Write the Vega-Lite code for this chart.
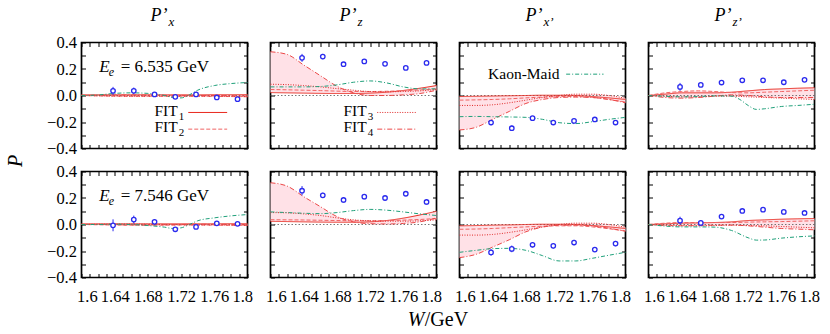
{
"$schema":"https://vega.github.io/schema/vega-lite/v6.json",
"background":"white",
"padding":{"left":4.5,"top":5.5,"right":2,"bottom":2},
"columns":4,
"spacing":{"row":23,"column":23},
"bounds":"flush",
"config":{
 "view":{"stroke":"#000","strokeWidth":1.7},
 "axis":{"grid":false,"domain":false,"ticks":true,"tickSize":-4,"tickColor":"#000","tickWidth":1,"labelFont":"Liberation Serif","labelFontSize":16.5,"labelColor":"#000","labelOverlap":false,"labelBound":false},
 "axisX":{"tickCount":20,"labelExpr":"round(datum.value*100)%4==0 ? format(datum.value,'.2~f') : ''","labelFlush":true,"labelFlushOffset":5,"labelPadding":15},
 "axisY":{"tickCount":8,"labelExpr":"abs(round(datum.value*10))%2==0 ? format(datum.value,'.1f') : ''","labelPadding":9},
 "text":{"font":"Liberation Serif","color":"#000","baseline":"alphabetic"}
},
"datasets":{
"cur":[
{"p":"a1","s":"F1","W":1.6,"P":0.005},{"p":"a1","s":"F1","W":1.62,"P":0.005},{"p":"a1","s":"F1","W":1.64,"P":0.005},{"p":"a1","s":"F1","W":1.66,"P":0.005},{"p":"a1","s":"F1","W":1.68,"P":0.005},{"p":"a1","s":"F1","W":1.7,"P":0.005},{"p":"a1","s":"F1","W":1.72,"P":0.005},{"p":"a1","s":"F1","W":1.74,"P":0.005},{"p":"a1","s":"F1","W":1.76,"P":0.006},{"p":"a1","s":"F1","W":1.78,"P":0.006},{"p":"a1","s":"F1","W":1.8,"P":0.007},
{"p":"a1","s":"F2","W":1.6,"P":0},{"p":"a1","s":"F2","W":1.62,"P":-0.003},{"p":"a1","s":"F2","W":1.64,"P":-0.005},{"p":"a1","s":"F2","W":1.66,"P":-0.006},{"p":"a1","s":"F2","W":1.68,"P":-0.006},{"p":"a1","s":"F2","W":1.7,"P":-0.006},{"p":"a1","s":"F2","W":1.72,"P":-0.006},{"p":"a1","s":"F2","W":1.74,"P":-0.006},{"p":"a1","s":"F2","W":1.76,"P":-0.007},{"p":"a1","s":"F2","W":1.78,"P":-0.008},{"p":"a1","s":"F2","W":1.8,"P":-0.01},
{"p":"a1","s":"F3","W":1.6,"P":0},{"p":"a1","s":"F3","W":1.62,"P":-0.002},{"p":"a1","s":"F3","W":1.64,"P":-0.004},{"p":"a1","s":"F3","W":1.66,"P":-0.005},{"p":"a1","s":"F3","W":1.68,"P":-0.005},{"p":"a1","s":"F3","W":1.7,"P":-0.004},{"p":"a1","s":"F3","W":1.72,"P":-0.004},{"p":"a1","s":"F3","W":1.74,"P":-0.004},{"p":"a1","s":"F3","W":1.76,"P":-0.005},{"p":"a1","s":"F3","W":1.78,"P":-0.006},{"p":"a1","s":"F3","W":1.8,"P":-0.008},
{"p":"a1","s":"F4","W":1.6,"P":0},{"p":"a1","s":"F4","W":1.62,"P":0.002},{"p":"a1","s":"F4","W":1.64,"P":0.004},{"p":"a1","s":"F4","W":1.66,"P":0.004},{"p":"a1","s":"F4","W":1.68,"P":0.003},{"p":"a1","s":"F4","W":1.7,"P":0.002},{"p":"a1","s":"F4","W":1.72,"P":0.001},{"p":"a1","s":"F4","W":1.74,"P":0},{"p":"a1","s":"F4","W":1.76,"P":0},{"p":"a1","s":"F4","W":1.78,"P":-0.002},{"p":"a1","s":"F4","W":1.8,"P":-0.003},
{"p":"a1","s":"M","W":1.6,"P":0},{"p":"a1","s":"M","W":1.62,"P":0.004},{"p":"a1","s":"M","W":1.64,"P":0.016},{"p":"a1","s":"M","W":1.66,"P":0.02},{"p":"a1","s":"M","W":1.68,"P":0.016},{"p":"a1","s":"M","W":1.7,"P":0},{"p":"a1","s":"M","W":1.71,"P":-0.015},{"p":"a1","s":"M","W":1.72,"P":-0.018},{"p":"a1","s":"M","W":1.73,"P":0.005},{"p":"a1","s":"M","W":1.74,"P":0.04},{"p":"a1","s":"M","W":1.76,"P":0.075},{"p":"a1","s":"M","W":1.78,"P":0.09},{"p":"a1","s":"M","W":1.8,"P":0.098},
{"p":"a2","s":"F1","W":1.6,"P":0.022},{"p":"a2","s":"F1","W":1.62,"P":0.02},{"p":"a2","s":"F1","W":1.64,"P":0.018},{"p":"a2","s":"F1","W":1.66,"P":0.016},{"p":"a2","s":"F1","W":1.68,"P":0.015},{"p":"a2","s":"F1","W":1.7,"P":0.015},{"p":"a2","s":"F1","W":1.72,"P":0.018},{"p":"a2","s":"F1","W":1.74,"P":0.025},{"p":"a2","s":"F1","W":1.76,"P":0.038},{"p":"a2","s":"F1","W":1.78,"P":0.055},{"p":"a2","s":"F1","W":1.8,"P":0.075},
{"p":"a2","s":"F2","W":1.6,"P":0.045},{"p":"a2","s":"F2","W":1.62,"P":0.043},{"p":"a2","s":"F2","W":1.64,"P":0.04},{"p":"a2","s":"F2","W":1.66,"P":0.037},{"p":"a2","s":"F2","W":1.68,"P":0.033},{"p":"a2","s":"F2","W":1.7,"P":0.03},{"p":"a2","s":"F2","W":1.72,"P":0.03},{"p":"a2","s":"F2","W":1.74,"P":0.032},{"p":"a2","s":"F2","W":1.76,"P":0.036},{"p":"a2","s":"F2","W":1.78,"P":0.042},{"p":"a2","s":"F2","W":1.8,"P":0.05},
{"p":"a2","s":"F3","W":1.6,"P":0.085},{"p":"a2","s":"F3","W":1.62,"P":0.082},{"p":"a2","s":"F3","W":1.64,"P":0.075},{"p":"a2","s":"F3","W":1.66,"P":0.065},{"p":"a2","s":"F3","W":1.68,"P":0.052},{"p":"a2","s":"F3","W":1.7,"P":0.04},{"p":"a2","s":"F3","W":1.72,"P":0.03},{"p":"a2","s":"F3","W":1.74,"P":0.028},{"p":"a2","s":"F3","W":1.76,"P":0.03},{"p":"a2","s":"F3","W":1.78,"P":0.035},{"p":"a2","s":"F3","W":1.8,"P":0.045},
{"p":"a2","s":"F4","W":1.6,"P":0.33},{"p":"a2","s":"F4","W":1.62,"P":0.31},{"p":"a2","s":"F4","W":1.64,"P":0.23},{"p":"a2","s":"F4","W":1.66,"P":0.15},{"p":"a2","s":"F4","W":1.68,"P":0.07},{"p":"a2","s":"F4","W":1.7,"P":0.02},{"p":"a2","s":"F4","W":1.72,"P":0},{"p":"a2","s":"F4","W":1.74,"P":0},{"p":"a2","s":"F4","W":1.76,"P":0.005},{"p":"a2","s":"F4","W":1.78,"P":0.015},{"p":"a2","s":"F4","W":1.8,"P":0.04},
{"p":"a2","s":"M","W":1.6,"P":0.065},{"p":"a2","s":"M","W":1.62,"P":0.065},{"p":"a2","s":"M","W":1.64,"P":0.065},{"p":"a2","s":"M","W":1.66,"P":0.068},{"p":"a2","s":"M","W":1.68,"P":0.08},{"p":"a2","s":"M","W":1.7,"P":0.1},{"p":"a2","s":"M","W":1.72,"P":0.11},{"p":"a2","s":"M","W":1.74,"P":0.095},{"p":"a2","s":"M","W":1.76,"P":0.065},{"p":"a2","s":"M","W":1.78,"P":0.05},{"p":"a2","s":"M","W":1.8,"P":0.05},
{"p":"a3","s":"F1","W":1.6,"P":-0.008},{"p":"a3","s":"F1","W":1.62,"P":-0.006},{"p":"a3","s":"F1","W":1.64,"P":-0.004},{"p":"a3","s":"F1","W":1.66,"P":-0.002},{"p":"a3","s":"F1","W":1.68,"P":0},{"p":"a3","s":"F1","W":1.7,"P":0.002},{"p":"a3","s":"F1","W":1.72,"P":0.002},{"p":"a3","s":"F1","W":1.74,"P":0},{"p":"a3","s":"F1","W":1.76,"P":-0.008},{"p":"a3","s":"F1","W":1.78,"P":-0.018},{"p":"a3","s":"F1","W":1.8,"P":-0.03},
{"p":"a3","s":"F2","W":1.6,"P":-0.035},{"p":"a3","s":"F2","W":1.62,"P":-0.033},{"p":"a3","s":"F2","W":1.64,"P":-0.03},{"p":"a3","s":"F2","W":1.66,"P":-0.025},{"p":"a3","s":"F2","W":1.68,"P":-0.018},{"p":"a3","s":"F2","W":1.7,"P":-0.012},{"p":"a3","s":"F2","W":1.72,"P":-0.008},{"p":"a3","s":"F2","W":1.74,"P":-0.008},{"p":"a3","s":"F2","W":1.76,"P":-0.015},{"p":"a3","s":"F2","W":1.78,"P":-0.03},{"p":"a3","s":"F2","W":1.8,"P":-0.05},
{"p":"a3","s":"F3","W":1.6,"P":-0.075},{"p":"a3","s":"F3","W":1.62,"P":-0.075},{"p":"a3","s":"F3","W":1.64,"P":-0.07},{"p":"a3","s":"F3","W":1.66,"P":-0.055},{"p":"a3","s":"F3","W":1.68,"P":-0.035},{"p":"a3","s":"F3","W":1.7,"P":-0.015},{"p":"a3","s":"F3","W":1.72,"P":0},{"p":"a3","s":"F3","W":1.74,"P":0.01},{"p":"a3","s":"F3","W":1.76,"P":0.01},{"p":"a3","s":"F3","W":1.78,"P":0},{"p":"a3","s":"F3","W":1.8,"P":-0.02},
{"p":"a3","s":"F4","W":1.6,"P":-0.26},{"p":"a3","s":"F4","W":1.62,"P":-0.24},{"p":"a3","s":"F4","W":1.64,"P":-0.18},{"p":"a3","s":"F4","W":1.66,"P":-0.12},{"p":"a3","s":"F4","W":1.68,"P":-0.06},{"p":"a3","s":"F4","W":1.7,"P":-0.03},{"p":"a3","s":"F4","W":1.72,"P":-0.015},{"p":"a3","s":"F4","W":1.74,"P":-0.012},{"p":"a3","s":"F4","W":1.76,"P":-0.015},{"p":"a3","s":"F4","W":1.78,"P":-0.03},{"p":"a3","s":"F4","W":1.8,"P":-0.055},
{"p":"a3","s":"M","W":1.6,"P":-0.16},{"p":"a3","s":"M","W":1.62,"P":-0.158},{"p":"a3","s":"M","W":1.64,"P":-0.16},{"p":"a3","s":"M","W":1.66,"P":-0.162},{"p":"a3","s":"M","W":1.68,"P":-0.165},{"p":"a3","s":"M","W":1.7,"P":-0.18},{"p":"a3","s":"M","W":1.72,"P":-0.205},{"p":"a3","s":"M","W":1.74,"P":-0.212},{"p":"a3","s":"M","W":1.76,"P":-0.198},{"p":"a3","s":"M","W":1.78,"P":-0.18},{"p":"a3","s":"M","W":1.8,"P":-0.165},
{"p":"a4","s":"F1","W":1.6,"P":0},{"p":"a4","s":"F1","W":1.62,"P":0.01},{"p":"a4","s":"F1","W":1.64,"P":0.02},{"p":"a4","s":"F1","W":1.66,"P":0.02},{"p":"a4","s":"F1","W":1.68,"P":0.02},{"p":"a4","s":"F1","W":1.7,"P":0.025},{"p":"a4","s":"F1","W":1.72,"P":0.035},{"p":"a4","s":"F1","W":1.74,"P":0.045},{"p":"a4","s":"F1","W":1.76,"P":0.05},{"p":"a4","s":"F1","W":1.78,"P":0.055},{"p":"a4","s":"F1","W":1.8,"P":0.058},
{"p":"a4","s":"F2","W":1.6,"P":0},{"p":"a4","s":"F2","W":1.62,"P":0.02},{"p":"a4","s":"F2","W":1.64,"P":0.03},{"p":"a4","s":"F2","W":1.66,"P":0.035},{"p":"a4","s":"F2","W":1.68,"P":0.03},{"p":"a4","s":"F2","W":1.7,"P":0.022},{"p":"a4","s":"F2","W":1.72,"P":0.02},{"p":"a4","s":"F2","W":1.74,"P":0.025},{"p":"a4","s":"F2","W":1.76,"P":0.03},{"p":"a4","s":"F2","W":1.78,"P":0.035},{"p":"a4","s":"F2","W":1.8,"P":0.04},
{"p":"a4","s":"F3","W":1.6,"P":0},{"p":"a4","s":"F3","W":1.62,"P":-0.005},{"p":"a4","s":"F3","W":1.64,"P":-0.01},{"p":"a4","s":"F3","W":1.66,"P":-0.01},{"p":"a4","s":"F3","W":1.68,"P":-0.005},{"p":"a4","s":"F3","W":1.7,"P":-0.005},{"p":"a4","s":"F3","W":1.72,"P":-0.01},{"p":"a4","s":"F3","W":1.74,"P":-0.015},{"p":"a4","s":"F3","W":1.76,"P":-0.02},{"p":"a4","s":"F3","W":1.78,"P":-0.025},{"p":"a4","s":"F3","W":1.8,"P":-0.03},
{"p":"a4","s":"F4","W":1.6,"P":0},{"p":"a4","s":"F4","W":1.62,"P":-0.015},{"p":"a4","s":"F4","W":1.64,"P":-0.02},{"p":"a4","s":"F4","W":1.66,"P":-0.015},{"p":"a4","s":"F4","W":1.68,"P":-0.005},{"p":"a4","s":"F4","W":1.7,"P":0.005},{"p":"a4","s":"F4","W":1.72,"P":0},{"p":"a4","s":"F4","W":1.74,"P":-0.01},{"p":"a4","s":"F4","W":1.76,"P":-0.015},{"p":"a4","s":"F4","W":1.78,"P":-0.015},{"p":"a4","s":"F4","W":1.8,"P":-0.015},
{"p":"a4","s":"M","W":1.6,"P":0},{"p":"a4","s":"M","W":1.62,"P":-0.006},{"p":"a4","s":"M","W":1.64,"P":-0.01},{"p":"a4","s":"M","W":1.66,"P":-0.008},{"p":"a4","s":"M","W":1.68,"P":-0.003},{"p":"a4","s":"M","W":1.7,"P":-0.005},{"p":"a4","s":"M","W":1.71,"P":-0.03},{"p":"a4","s":"M","W":1.72,"P":-0.075},{"p":"a4","s":"M","W":1.73,"P":-0.105},{"p":"a4","s":"M","W":1.74,"P":-0.1},{"p":"a4","s":"M","W":1.76,"P":-0.083},{"p":"a4","s":"M","W":1.78,"P":-0.075},{"p":"a4","s":"M","W":1.8,"P":-0.066},
{"p":"b1","s":"F1","W":1.6,"P":0.005},{"p":"b1","s":"F1","W":1.62,"P":0.005},{"p":"b1","s":"F1","W":1.64,"P":0.005},{"p":"b1","s":"F1","W":1.66,"P":0.005},{"p":"b1","s":"F1","W":1.68,"P":0.005},{"p":"b1","s":"F1","W":1.7,"P":0.005},{"p":"b1","s":"F1","W":1.72,"P":0.005},{"p":"b1","s":"F1","W":1.74,"P":0.005},{"p":"b1","s":"F1","W":1.76,"P":0.005},{"p":"b1","s":"F1","W":1.78,"P":0.006},{"p":"b1","s":"F1","W":1.8,"P":0.006},
{"p":"b1","s":"F2","W":1.6,"P":0},{"p":"b1","s":"F2","W":1.62,"P":-0.002},{"p":"b1","s":"F2","W":1.64,"P":-0.004},{"p":"b1","s":"F2","W":1.66,"P":-0.005},{"p":"b1","s":"F2","W":1.68,"P":-0.005},{"p":"b1","s":"F2","W":1.7,"P":-0.005},{"p":"b1","s":"F2","W":1.72,"P":-0.004},{"p":"b1","s":"F2","W":1.74,"P":-0.004},{"p":"b1","s":"F2","W":1.76,"P":-0.005},{"p":"b1","s":"F2","W":1.78,"P":-0.006},{"p":"b1","s":"F2","W":1.8,"P":-0.007},
{"p":"b1","s":"F3","W":1.6,"P":0},{"p":"b1","s":"F3","W":1.62,"P":0.002},{"p":"b1","s":"F3","W":1.64,"P":0.003},{"p":"b1","s":"F3","W":1.66,"P":0.003},{"p":"b1","s":"F3","W":1.68,"P":0.002},{"p":"b1","s":"F3","W":1.7,"P":0},{"p":"b1","s":"F3","W":1.72,"P":-0.002},{"p":"b1","s":"F3","W":1.74,"P":-0.003},{"p":"b1","s":"F3","W":1.76,"P":-0.003},{"p":"b1","s":"F3","W":1.78,"P":-0.004},{"p":"b1","s":"F3","W":1.8,"P":-0.005},
{"p":"b1","s":"F4","W":1.6,"P":0},{"p":"b1","s":"F4","W":1.62,"P":0},{"p":"b1","s":"F4","W":1.64,"P":-0.002},{"p":"b1","s":"F4","W":1.66,"P":-0.003},{"p":"b1","s":"F4","W":1.68,"P":-0.003},{"p":"b1","s":"F4","W":1.7,"P":-0.002},{"p":"b1","s":"F4","W":1.72,"P":0},{"p":"b1","s":"F4","W":1.74,"P":0.002},{"p":"b1","s":"F4","W":1.76,"P":0.002},{"p":"b1","s":"F4","W":1.78,"P":0},{"p":"b1","s":"F4","W":1.8,"P":-0.002},
{"p":"b1","s":"M","W":1.6,"P":0},{"p":"b1","s":"M","W":1.62,"P":0},{"p":"b1","s":"M","W":1.64,"P":0.002},{"p":"b1","s":"M","W":1.66,"P":0},{"p":"b1","s":"M","W":1.68,"P":-0.008},{"p":"b1","s":"M","W":1.7,"P":-0.02},{"p":"b1","s":"M","W":1.71,"P":-0.03},{"p":"b1","s":"M","W":1.72,"P":-0.025},{"p":"b1","s":"M","W":1.73,"P":0},{"p":"b1","s":"M","W":1.74,"P":0.028},{"p":"b1","s":"M","W":1.76,"P":0.05},{"p":"b1","s":"M","W":1.78,"P":0.065},{"p":"b1","s":"M","W":1.8,"P":0.075},
{"p":"b2","s":"F1","W":1.6,"P":0.024},{"p":"b2","s":"F1","W":1.62,"P":0.022},{"p":"b2","s":"F1","W":1.64,"P":0.02},{"p":"b2","s":"F1","W":1.66,"P":0.018},{"p":"b2","s":"F1","W":1.68,"P":0.017},{"p":"b2","s":"F1","W":1.7,"P":0.017},{"p":"b2","s":"F1","W":1.72,"P":0.02},{"p":"b2","s":"F1","W":1.74,"P":0.03},{"p":"b2","s":"F1","W":1.76,"P":0.048},{"p":"b2","s":"F1","W":1.78,"P":0.072},{"p":"b2","s":"F1","W":1.8,"P":0.1},
{"p":"b2","s":"F2","W":1.6,"P":0.036},{"p":"b2","s":"F2","W":1.62,"P":0.035},{"p":"b2","s":"F2","W":1.64,"P":0.034},{"p":"b2","s":"F2","W":1.66,"P":0.032},{"p":"b2","s":"F2","W":1.68,"P":0.03},{"p":"b2","s":"F2","W":1.7,"P":0.028},{"p":"b2","s":"F2","W":1.72,"P":0.028},{"p":"b2","s":"F2","W":1.74,"P":0.03},{"p":"b2","s":"F2","W":1.76,"P":0.033},{"p":"b2","s":"F2","W":1.78,"P":0.038},{"p":"b2","s":"F2","W":1.8,"P":0.045},
{"p":"b2","s":"F3","W":1.6,"P":0.09},{"p":"b2","s":"F3","W":1.62,"P":0.088},{"p":"b2","s":"F3","W":1.64,"P":0.08},{"p":"b2","s":"F3","W":1.66,"P":0.068},{"p":"b2","s":"F3","W":1.68,"P":0.05},{"p":"b2","s":"F3","W":1.7,"P":0.035},{"p":"b2","s":"F3","W":1.72,"P":0.028},{"p":"b2","s":"F3","W":1.74,"P":0.025},{"p":"b2","s":"F3","W":1.76,"P":0.025},{"p":"b2","s":"F3","W":1.78,"P":0.028},{"p":"b2","s":"F3","W":1.8,"P":0.035},
{"p":"b2","s":"F4","W":1.6,"P":0.315},{"p":"b2","s":"F4","W":1.62,"P":0.29},{"p":"b2","s":"F4","W":1.64,"P":0.21},{"p":"b2","s":"F4","W":1.66,"P":0.135},{"p":"b2","s":"F4","W":1.68,"P":0.06},{"p":"b2","s":"F4","W":1.7,"P":0.02},{"p":"b2","s":"F4","W":1.72,"P":0.006},{"p":"b2","s":"F4","W":1.74,"P":0.004},{"p":"b2","s":"F4","W":1.76,"P":0.008},{"p":"b2","s":"F4","W":1.78,"P":0.02},{"p":"b2","s":"F4","W":1.8,"P":0.05},
{"p":"b2","s":"M","W":1.6,"P":0.095},{"p":"b2","s":"M","W":1.62,"P":0.09},{"p":"b2","s":"M","W":1.64,"P":0.085},{"p":"b2","s":"M","W":1.66,"P":0.082},{"p":"b2","s":"M","W":1.68,"P":0.09},{"p":"b2","s":"M","W":1.7,"P":0.105},{"p":"b2","s":"M","W":1.72,"P":0.114},{"p":"b2","s":"M","W":1.74,"P":0.108},{"p":"b2","s":"M","W":1.76,"P":0.095},{"p":"b2","s":"M","W":1.78,"P":0.08},{"p":"b2","s":"M","W":1.8,"P":0.068},
{"p":"b3","s":"F1","W":1.6,"P":-0.01},{"p":"b3","s":"F1","W":1.62,"P":-0.008},{"p":"b3","s":"F1","W":1.64,"P":-0.005},{"p":"b3","s":"F1","W":1.66,"P":-0.003},{"p":"b3","s":"F1","W":1.68,"P":0},{"p":"b3","s":"F1","W":1.7,"P":0.002},{"p":"b3","s":"F1","W":1.72,"P":0.002},{"p":"b3","s":"F1","W":1.74,"P":0},{"p":"b3","s":"F1","W":1.76,"P":-0.008},{"p":"b3","s":"F1","W":1.78,"P":-0.018},{"p":"b3","s":"F1","W":1.8,"P":-0.03},
{"p":"b3","s":"F2","W":1.6,"P":-0.036},{"p":"b3","s":"F2","W":1.62,"P":-0.034},{"p":"b3","s":"F2","W":1.64,"P":-0.03},{"p":"b3","s":"F2","W":1.66,"P":-0.024},{"p":"b3","s":"F2","W":1.68,"P":-0.018},{"p":"b3","s":"F2","W":1.7,"P":-0.013},{"p":"b3","s":"F2","W":1.72,"P":-0.01},{"p":"b3","s":"F2","W":1.74,"P":-0.01},{"p":"b3","s":"F2","W":1.76,"P":-0.018},{"p":"b3","s":"F2","W":1.78,"P":-0.032},{"p":"b3","s":"F2","W":1.8,"P":-0.05},
{"p":"b3","s":"F3","W":1.6,"P":-0.08},{"p":"b3","s":"F3","W":1.62,"P":-0.08},{"p":"b3","s":"F3","W":1.64,"P":-0.075},{"p":"b3","s":"F3","W":1.66,"P":-0.06},{"p":"b3","s":"F3","W":1.68,"P":-0.04},{"p":"b3","s":"F3","W":1.7,"P":-0.018},{"p":"b3","s":"F3","W":1.72,"P":0},{"p":"b3","s":"F3","W":1.74,"P":0.01},{"p":"b3","s":"F3","W":1.76,"P":0.01},{"p":"b3","s":"F3","W":1.78,"P":0},{"p":"b3","s":"F3","W":1.8,"P":-0.02},
{"p":"b3","s":"F4","W":1.6,"P":-0.25},{"p":"b3","s":"F4","W":1.62,"P":-0.225},{"p":"b3","s":"F4","W":1.64,"P":-0.17},{"p":"b3","s":"F4","W":1.66,"P":-0.115},{"p":"b3","s":"F4","W":1.68,"P":-0.055},{"p":"b3","s":"F4","W":1.7,"P":-0.02},{"p":"b3","s":"F4","W":1.72,"P":-0.006},{"p":"b3","s":"F4","W":1.74,"P":-0.005},{"p":"b3","s":"F4","W":1.76,"P":-0.01},{"p":"b3","s":"F4","W":1.78,"P":-0.028},{"p":"b3","s":"F4","W":1.8,"P":-0.05},
{"p":"b3","s":"M","W":1.6,"P":-0.21},{"p":"b3","s":"M","W":1.62,"P":-0.195},{"p":"b3","s":"M","W":1.64,"P":-0.182},{"p":"b3","s":"M","W":1.66,"P":-0.18},{"p":"b3","s":"M","W":1.68,"P":-0.195},{"p":"b3","s":"M","W":1.7,"P":-0.235},{"p":"b3","s":"M","W":1.72,"P":-0.275},{"p":"b3","s":"M","W":1.74,"P":-0.275},{"p":"b3","s":"M","W":1.76,"P":-0.255},{"p":"b3","s":"M","W":1.78,"P":-0.232},{"p":"b3","s":"M","W":1.8,"P":-0.21},
{"p":"b4","s":"F1","W":1.6,"P":0},{"p":"b4","s":"F1","W":1.62,"P":0.005},{"p":"b4","s":"F1","W":1.64,"P":0.01},{"p":"b4","s":"F1","W":1.66,"P":0.012},{"p":"b4","s":"F1","W":1.68,"P":0.015},{"p":"b4","s":"F1","W":1.7,"P":0.02},{"p":"b4","s":"F1","W":1.72,"P":0.03},{"p":"b4","s":"F1","W":1.74,"P":0.035},{"p":"b4","s":"F1","W":1.76,"P":0.04},{"p":"b4","s":"F1","W":1.78,"P":0.043},{"p":"b4","s":"F1","W":1.8,"P":0.045},
{"p":"b4","s":"F2","W":1.6,"P":0},{"p":"b4","s":"F2","W":1.62,"P":0.01},{"p":"b4","s":"F2","W":1.64,"P":0.015},{"p":"b4","s":"F2","W":1.66,"P":0.015},{"p":"b4","s":"F2","W":1.68,"P":0.015},{"p":"b4","s":"F2","W":1.7,"P":0.015},{"p":"b4","s":"F2","W":1.72,"P":0.018},{"p":"b4","s":"F2","W":1.74,"P":0.02},{"p":"b4","s":"F2","W":1.76,"P":0.022},{"p":"b4","s":"F2","W":1.78,"P":0.025},{"p":"b4","s":"F2","W":1.8,"P":0.028},
{"p":"b4","s":"F3","W":1.6,"P":0},{"p":"b4","s":"F3","W":1.62,"P":-0.005},{"p":"b4","s":"F3","W":1.64,"P":-0.008},{"p":"b4","s":"F3","W":1.66,"P":-0.01},{"p":"b4","s":"F3","W":1.68,"P":-0.008},{"p":"b4","s":"F3","W":1.7,"P":-0.005},{"p":"b4","s":"F3","W":1.72,"P":-0.008},{"p":"b4","s":"F3","W":1.74,"P":-0.01},{"p":"b4","s":"F3","W":1.76,"P":-0.015},{"p":"b4","s":"F3","W":1.78,"P":-0.02},{"p":"b4","s":"F3","W":1.8,"P":-0.025},
{"p":"b4","s":"F4","W":1.6,"P":0},{"p":"b4","s":"F4","W":1.62,"P":-0.008},{"p":"b4","s":"F4","W":1.64,"P":-0.01},{"p":"b4","s":"F4","W":1.66,"P":-0.008},{"p":"b4","s":"F4","W":1.68,"P":-0.005},{"p":"b4","s":"F4","W":1.7,"P":-0.005},{"p":"b4","s":"F4","W":1.72,"P":-0.01},{"p":"b4","s":"F4","W":1.74,"P":-0.02},{"p":"b4","s":"F4","W":1.76,"P":-0.03},{"p":"b4","s":"F4","W":1.78,"P":-0.035},{"p":"b4","s":"F4","W":1.8,"P":-0.04},
{"p":"b4","s":"M","W":1.6,"P":0},{"p":"b4","s":"M","W":1.62,"P":-0.012},{"p":"b4","s":"M","W":1.64,"P":-0.018},{"p":"b4","s":"M","W":1.66,"P":-0.018},{"p":"b4","s":"M","W":1.68,"P":-0.02},{"p":"b4","s":"M","W":1.7,"P":-0.045},{"p":"b4","s":"M","W":1.72,"P":-0.1},{"p":"b4","s":"M","W":1.73,"P":-0.118},{"p":"b4","s":"M","W":1.74,"P":-0.117},{"p":"b4","s":"M","W":1.76,"P":-0.103},{"p":"b4","s":"M","W":1.78,"P":-0.093},{"p":"b4","s":"M","W":1.8,"P":-0.086}
],
"pts":[
{"p":"a1","W":1.638,"P":0.035,"e":0.03},{"p":"a1","W":1.663,"P":0.035,"e":0.025},{"p":"a1","W":1.688,"P":0.008,"e":0.015},{"p":"a1","W":1.713,"P":-0.01,"e":0.012},{"p":"a1","W":1.738,"P":0.008,"e":0.012},{"p":"a1","W":1.763,"P":-0.015,"e":0.01},{"p":"a1","W":1.788,"P":-0.028,"e":0.012},
{"p":"a2","W":1.638,"P":0.284,"e":0.03},{"p":"a2","W":1.663,"P":0.294,"e":0.02},{"p":"a2","W":1.688,"P":0.236,"e":0.015},{"p":"a2","W":1.713,"P":0.257,"e":0.015},{"p":"a2","W":1.738,"P":0.239,"e":0.015},{"p":"a2","W":1.763,"P":0.208,"e":0.015},{"p":"a2","W":1.788,"P":0.246,"e":0.015},
{"p":"a3","W":1.638,"P":-0.204,"e":0.02},{"p":"a3","W":1.663,"P":-0.247,"e":0.02},{"p":"a3","W":1.688,"P":-0.171,"e":0.015},{"p":"a3","W":1.713,"P":-0.204,"e":0.015},{"p":"a3","W":1.738,"P":-0.192,"e":0.015},{"p":"a3","W":1.763,"P":-0.181,"e":0.015},{"p":"a3","W":1.788,"P":-0.204,"e":0.015},
{"p":"a4","W":1.638,"P":0.065,"e":0.03},{"p":"a4","W":1.663,"P":0.08,"e":0.012},{"p":"a4","W":1.688,"P":0.098,"e":0.01},{"p":"a4","W":1.713,"P":0.115,"e":0.01},{"p":"a4","W":1.738,"P":0.115,"e":0.01},{"p":"a4","W":1.763,"P":0.1,"e":0.01},{"p":"a4","W":1.788,"P":0.118,"e":0.01},
{"p":"b1","W":1.638,"P":-0.006,"e":0.045},{"p":"b1","W":1.663,"P":0.037,"e":0.03},{"p":"b1","W":1.688,"P":0.02,"e":0.02},{"p":"b1","W":1.713,"P":-0.036,"e":0.015},{"p":"b1","W":1.738,"P":-0.018,"e":0.015},{"p":"b1","W":1.763,"P":0.009,"e":0.015},{"p":"b1","W":1.788,"P":0.005,"e":0.015},
{"p":"b2","W":1.638,"P":0.255,"e":0.035},{"p":"b2","W":1.663,"P":0.22,"e":0.02},{"p":"b2","W":1.688,"P":0.185,"e":0.02},{"p":"b2","W":1.713,"P":0.21,"e":0.02},{"p":"b2","W":1.738,"P":0.2,"e":0.015},{"p":"b2","W":1.763,"P":0.232,"e":0.015},{"p":"b2","W":1.788,"P":0.17,"e":0.02},
{"p":"b3","W":1.638,"P":-0.211,"e":0.025},{"p":"b3","W":1.663,"P":-0.184,"e":0.025},{"p":"b3","W":1.688,"P":-0.153,"e":0.02},{"p":"b3","W":1.713,"P":-0.161,"e":0.02},{"p":"b3","W":1.738,"P":-0.136,"e":0.02},{"p":"b3","W":1.763,"P":-0.189,"e":0.015},{"p":"b3","W":1.788,"P":-0.144,"e":0.02},
{"p":"b4","W":1.638,"P":0.029,"e":0.03},{"p":"b4","W":1.663,"P":0.012,"e":0.02},{"p":"b4","W":1.688,"P":0.06,"e":0.015},{"p":"b4","W":1.713,"P":0.102,"e":0.012},{"p":"b4","W":1.738,"P":0.112,"e":0.015},{"p":"b4","W":1.763,"P":0.095,"e":0.012},{"p":"b4","W":1.788,"P":0.087,"e":0.012}
]
},
"concat":[
{"width":166,"height":106,"resolve":{"axis":{"x":"independent","y":"independent"}},"layer":[
 {"data":{"name":"cur"},"transform":[{"filter":"datum.p=='a1' && datum.s!='M'"},{"aggregate":[{"op":"min","field":"P","as":"lo"},{"op":"max","field":"P","as":"hi"}],"groupby":["W"]}],"mark":{"type":"area","color":"#ffe1e7","interpolate":"monotone"},"encoding":{"x":{"field":"W","type":"quantitative","scale":{"domain":[1.6,1.8],"nice":false,"zero":false},"axis":{"title":null,"labels":false}},"y":{"field":"lo","type":"quantitative","scale":{"domain":[-0.4,0.4],"nice":false},"axis":{"title":"P","titleFont":"Liberation Serif","titleFontStyle":"italic","titleFontWeight":"normal","titleFontSize":20,"titleColor":"#000","titleX":-66,"titleY":118,"titleAngle":-90,"titleAlign":"center","titleBaseline":"middle"}},"y2":{"field":"hi"}}},
 {"data":{"values":[{}]},"mark":{"type":"rule","color":"#555","strokeWidth":0.8,"strokeDash":[1.5,2]},"encoding":{"y":{"datum":0,"axis":null}}},
 {"data":{"name":"cur"},"transform":[{"filter":"datum.p=='a1'"}],"mark":{"type":"line","strokeWidth":1,"interpolate":"monotone"},"encoding":{"x":{"field":"W","type":"quantitative","axis":{"title":null,"labels":false,"orient":"top"}},"y":{"field":"P","type":"quantitative","axis":{"title":null,"labels":false,"orient":"right"}},"color":{"field":"s","type":"nominal","scale":{"domain":["F1","F2","F3","F4","M"],"range":["#e8281e","#f06464","#e02828","#ec4848","#1fa07a"]},"legend":null},"strokeDash":{"field":"s","type":"nominal","scale":{"domain":["F1","F2","F3","F4","M"],"range":[[1,0],[4,2],[1,1.5],[5,2,1,2],[4,2,1,2]]},"legend":null}}},
 {"data":{"name":"pts"},"transform":[{"filter":"datum.p=='a1'"}],"mark":{"type":"errorbar","color":"#2a2aee","thickness":1},"encoding":{"x":{"field":"W","type":"quantitative","axis":null},"y":{"field":"P","type":"quantitative","axis":null},"yError":{"field":"e"}}},
 {"data":{"name":"pts"},"transform":[{"filter":"datum.p=='a1'"}],"mark":{"type":"point","shape":"circle","filled":true,"fill":"#fff","stroke":"#2a2aee","size":20,"strokeWidth":1.3,"opacity":1},"encoding":{"x":{"field":"W","type":"quantitative","axis":null},"y":{"field":"P","type":"quantitative","axis":null}}},
 {"data":{"values":[{}]},"mark":{"type":"text","text":"P’","fontStyle":"italic","fontSize":18,"align":"right"},"encoding":{"x":{"datum":1.7036,"axis":null},"y":{"datum":0.561,"axis":null}}},
 {"data":{"values":[{}]},"mark":{"type":"text","text":"x","fontStyle":"italic","fontSize":13,"align":"left","dx":1,"dy":5},"encoding":{"x":{"datum":1.7036,"axis":null},"y":{"datum":0.561,"axis":null}}},
 {"data":{"values":[{}]},"mark":{"type":"text","text":"E","fontStyle":"italic","fontSize":17,"align":"left"},"encoding":{"x":{"datum":1.6213,"axis":null},"y":{"datum":0.176,"axis":null}}},
 {"data":{"values":[{}]},"mark":{"type":"text","text":"e","fontStyle":"italic","fontSize":12,"align":"left","dx":9.5,"dy":4},"encoding":{"x":{"datum":1.6213,"axis":null},"y":{"datum":0.176,"axis":null}}},
 {"data":{"values":[{}]},"mark":{"type":"text","text":"= 6.535 GeV","fontSize":17,"align":"left","dx":21.5},"encoding":{"x":{"datum":1.6213,"axis":null},"y":{"datum":0.176,"axis":null}}},
 {"data":{"values":[{}]},"mark":{"type":"text","text":"FIT","fontSize":15.5,"align":"right"},"encoding":{"x":{"datum":1.7159,"axis":null},"y":{"datum":-0.156,"axis":null}}},
 {"data":{"values":[{}]},"mark":{"type":"text","text":"1","fontSize":11,"align":"left","dx":1,"dy":4},"encoding":{"x":{"datum":1.7159,"axis":null},"y":{"datum":-0.156,"axis":null}}},
 {"data":{"values":[{}]},"mark":{"type":"rule","color":"#e8281e","strokeWidth":1},"encoding":{"x":{"datum":1.7286,"axis":null},"x2":{"datum":1.7755},"y":{"datum":-0.128,"axis":null}}},
 {"data":{"values":[{}]},"mark":{"type":"text","text":"FIT","fontSize":15.5,"align":"right"},"encoding":{"x":{"datum":1.7159,"axis":null},"y":{"datum":-0.277,"axis":null}}},
 {"data":{"values":[{}]},"mark":{"type":"text","text":"2","fontSize":11,"align":"left","dx":1,"dy":4},"encoding":{"x":{"datum":1.7159,"axis":null},"y":{"datum":-0.277,"axis":null}}},
 {"data":{"values":[{}]},"mark":{"type":"rule","color":"#f06464","strokeWidth":1,"strokeDash":[4,2]},"encoding":{"x":{"datum":1.7286,"axis":null},"x2":{"datum":1.7755},"y":{"datum":-0.254,"axis":null}}}
]},
{"width":166,"height":106,"resolve":{"axis":{"x":"independent","y":"independent"}},"layer":[
 {"data":{"name":"cur"},"transform":[{"filter":"datum.p=='a2' && datum.s!='M'"},{"aggregate":[{"op":"min","field":"P","as":"lo"},{"op":"max","field":"P","as":"hi"}],"groupby":["W"]}],"mark":{"type":"area","color":"#ffe1e7","interpolate":"monotone"},"encoding":{"x":{"field":"W","type":"quantitative","scale":{"domain":[1.6,1.8],"nice":false,"zero":false},"axis":{"title":null,"labels":false}},"y":{"field":"lo","type":"quantitative","scale":{"domain":[-0.4,0.4],"nice":false},"axis":{"title":null,"labels":false}},"y2":{"field":"hi"}}},
 {"data":{"values":[{}]},"mark":{"type":"rule","color":"#555","strokeWidth":0.8,"strokeDash":[1.5,2]},"encoding":{"y":{"datum":0,"axis":null}}},
 {"data":{"name":"cur"},"transform":[{"filter":"datum.p=='a2'"}],"mark":{"type":"line","strokeWidth":1,"interpolate":"monotone"},"encoding":{"x":{"field":"W","type":"quantitative","axis":{"title":null,"labels":false,"orient":"top"}},"y":{"field":"P","type":"quantitative","axis":{"title":null,"labels":false,"orient":"right"}},"color":{"field":"s","type":"nominal","scale":{"domain":["F1","F2","F3","F4","M"],"range":["#e8281e","#f06464","#e02828","#ec4848","#1fa07a"]},"legend":null},"strokeDash":{"field":"s","type":"nominal","scale":{"domain":["F1","F2","F3","F4","M"],"range":[[1,0],[4,2],[1,1.5],[5,2,1,2],[4,2,1,2]]},"legend":null}}},
 {"data":{"name":"pts"},"transform":[{"filter":"datum.p=='a2'"}],"mark":{"type":"errorbar","color":"#2a2aee","thickness":1},"encoding":{"x":{"field":"W","type":"quantitative","axis":null},"y":{"field":"P","type":"quantitative","axis":null},"yError":{"field":"e"}}},
 {"data":{"name":"pts"},"transform":[{"filter":"datum.p=='a2'"}],"mark":{"type":"point","shape":"circle","filled":true,"fill":"#fff","stroke":"#2a2aee","size":20,"strokeWidth":1.3,"opacity":1},"encoding":{"x":{"field":"W","type":"quantitative","axis":null},"y":{"field":"P","type":"quantitative","axis":null}}},
 {"data":{"values":[{}]},"mark":{"type":"text","text":"P’","fontStyle":"italic","fontSize":18,"align":"right"},"encoding":{"x":{"datum":1.7036,"axis":null},"y":{"datum":0.561,"axis":null}}},
 {"data":{"values":[{}]},"mark":{"type":"text","text":"z","fontStyle":"italic","fontSize":13,"align":"left","dx":1,"dy":5},"encoding":{"x":{"datum":1.7036,"axis":null},"y":{"datum":0.561,"axis":null}}},
 {"data":{"values":[{}]},"mark":{"type":"text","text":"FIT","fontSize":15.5,"align":"right"},"encoding":{"x":{"datum":1.7159,"axis":null},"y":{"datum":-0.156,"axis":null}}},
 {"data":{"values":[{}]},"mark":{"type":"text","text":"3","fontSize":11,"align":"left","dx":1,"dy":4},"encoding":{"x":{"datum":1.7159,"axis":null},"y":{"datum":-0.156,"axis":null}}},
 {"data":{"values":[{}]},"mark":{"type":"rule","color":"#e02828","strokeWidth":1,"strokeDash":[1,1.5]},"encoding":{"x":{"datum":1.7286,"axis":null},"x2":{"datum":1.7755},"y":{"datum":-0.128,"axis":null}}},
 {"data":{"values":[{}]},"mark":{"type":"text","text":"FIT","fontSize":15.5,"align":"right"},"encoding":{"x":{"datum":1.7159,"axis":null},"y":{"datum":-0.277,"axis":null}}},
 {"data":{"values":[{}]},"mark":{"type":"text","text":"4","fontSize":11,"align":"left","dx":1,"dy":4},"encoding":{"x":{"datum":1.7159,"axis":null},"y":{"datum":-0.277,"axis":null}}},
 {"data":{"values":[{}]},"mark":{"type":"rule","color":"#ec4848","strokeWidth":1,"strokeDash":[5,2,1,2]},"encoding":{"x":{"datum":1.7286,"axis":null},"x2":{"datum":1.7755},"y":{"datum":-0.254,"axis":null}}}
]},
{"width":166,"height":106,"resolve":{"axis":{"x":"independent","y":"independent"}},"layer":[
 {"data":{"name":"cur"},"transform":[{"filter":"datum.p=='a3' && datum.s!='M'"},{"aggregate":[{"op":"min","field":"P","as":"lo"},{"op":"max","field":"P","as":"hi"}],"groupby":["W"]}],"mark":{"type":"area","color":"#ffe1e7","interpolate":"monotone"},"encoding":{"x":{"field":"W","type":"quantitative","scale":{"domain":[1.6,1.8],"nice":false,"zero":false},"axis":{"title":null,"labels":false}},"y":{"field":"lo","type":"quantitative","scale":{"domain":[-0.4,0.4],"nice":false},"axis":{"title":null,"labels":false}},"y2":{"field":"hi"}}},
 {"data":{"values":[{}]},"mark":{"type":"rule","color":"#555","strokeWidth":0.8,"strokeDash":[1.5,2]},"encoding":{"y":{"datum":0,"axis":null}}},
 {"data":{"name":"cur"},"transform":[{"filter":"datum.p=='a3'"}],"mark":{"type":"line","strokeWidth":1,"interpolate":"monotone"},"encoding":{"x":{"field":"W","type":"quantitative","axis":{"title":null,"labels":false,"orient":"top"}},"y":{"field":"P","type":"quantitative","axis":{"title":null,"labels":false,"orient":"right"}},"color":{"field":"s","type":"nominal","scale":{"domain":["F1","F2","F3","F4","M"],"range":["#e8281e","#f06464","#e02828","#ec4848","#1fa07a"]},"legend":null},"strokeDash":{"field":"s","type":"nominal","scale":{"domain":["F1","F2","F3","F4","M"],"range":[[1,0],[4,2],[1,1.5],[5,2,1,2],[4,2,1,2]]},"legend":null}}},
 {"data":{"name":"pts"},"transform":[{"filter":"datum.p=='a3'"}],"mark":{"type":"errorbar","color":"#2a2aee","thickness":1},"encoding":{"x":{"field":"W","type":"quantitative","axis":null},"y":{"field":"P","type":"quantitative","axis":null},"yError":{"field":"e"}}},
 {"data":{"name":"pts"},"transform":[{"filter":"datum.p=='a3'"}],"mark":{"type":"point","shape":"circle","filled":true,"fill":"#fff","stroke":"#2a2aee","size":20,"strokeWidth":1.3,"opacity":1},"encoding":{"x":{"field":"W","type":"quantitative","axis":null},"y":{"field":"P","type":"quantitative","axis":null}}},
 {"data":{"values":[{}]},"mark":{"type":"text","text":"P’","fontStyle":"italic","fontSize":18,"align":"right"},"encoding":{"x":{"datum":1.7,"axis":null},"y":{"datum":0.561,"axis":null}}},
 {"data":{"values":[{}]},"mark":{"type":"text","text":"x’","fontStyle":"italic","fontSize":13,"align":"left","dx":1,"dy":5},"encoding":{"x":{"datum":1.7,"axis":null},"y":{"datum":0.561,"axis":null}}},
 {"data":{"values":[{}]},"mark":{"type":"text","text":"Kaon-Maid","fontSize":15.5,"align":"right"},"encoding":{"x":{"datum":1.7205,"axis":null},"y":{"datum":0.123,"axis":null}}},
 {"data":{"values":[{}]},"mark":{"type":"rule","color":"#1fa07a","strokeWidth":1,"strokeDash":[4,2,1,2]},"encoding":{"x":{"datum":1.7285,"axis":null},"x2":{"datum":1.7735},"y":{"datum":0.161,"axis":null}}}
]},
{"width":166,"height":106,"resolve":{"axis":{"x":"independent","y":"independent"}},"layer":[
 {"data":{"name":"cur"},"transform":[{"filter":"datum.p=='a4' && datum.s!='M'"},{"aggregate":[{"op":"min","field":"P","as":"lo"},{"op":"max","field":"P","as":"hi"}],"groupby":["W"]}],"mark":{"type":"area","color":"#ffe1e7","interpolate":"monotone"},"encoding":{"x":{"field":"W","type":"quantitative","scale":{"domain":[1.6,1.8],"nice":false,"zero":false},"axis":{"title":null,"labels":false}},"y":{"field":"lo","type":"quantitative","scale":{"domain":[-0.4,0.4],"nice":false},"axis":{"title":null,"labels":false}},"y2":{"field":"hi"}}},
 {"data":{"values":[{}]},"mark":{"type":"rule","color":"#555","strokeWidth":0.8,"strokeDash":[1.5,2]},"encoding":{"y":{"datum":0,"axis":null}}},
 {"data":{"name":"cur"},"transform":[{"filter":"datum.p=='a4'"}],"mark":{"type":"line","strokeWidth":1,"interpolate":"monotone"},"encoding":{"x":{"field":"W","type":"quantitative","axis":{"title":null,"labels":false,"orient":"top"}},"y":{"field":"P","type":"quantitative","axis":{"title":null,"labels":false,"orient":"right"}},"color":{"field":"s","type":"nominal","scale":{"domain":["F1","F2","F3","F4","M"],"range":["#e8281e","#f06464","#e02828","#ec4848","#1fa07a"]},"legend":null},"strokeDash":{"field":"s","type":"nominal","scale":{"domain":["F1","F2","F3","F4","M"],"range":[[1,0],[4,2],[1,1.5],[5,2,1,2],[4,2,1,2]]},"legend":null}}},
 {"data":{"name":"pts"},"transform":[{"filter":"datum.p=='a4'"}],"mark":{"type":"errorbar","color":"#2a2aee","thickness":1},"encoding":{"x":{"field":"W","type":"quantitative","axis":null},"y":{"field":"P","type":"quantitative","axis":null},"yError":{"field":"e"}}},
 {"data":{"name":"pts"},"transform":[{"filter":"datum.p=='a4'"}],"mark":{"type":"point","shape":"circle","filled":true,"fill":"#fff","stroke":"#2a2aee","size":20,"strokeWidth":1.3,"opacity":1},"encoding":{"x":{"field":"W","type":"quantitative","axis":null},"y":{"field":"P","type":"quantitative","axis":null}}},
 {"data":{"values":[{}]},"mark":{"type":"text","text":"P’","fontStyle":"italic","fontSize":18,"align":"right"},"encoding":{"x":{"datum":1.7,"axis":null},"y":{"datum":0.561,"axis":null}}},
 {"data":{"values":[{}]},"mark":{"type":"text","text":"z’","fontStyle":"italic","fontSize":13,"align":"left","dx":1,"dy":5},"encoding":{"x":{"datum":1.7,"axis":null},"y":{"datum":0.561,"axis":null}}}
]},
{"width":166,"height":106,"resolve":{"axis":{"x":"independent","y":"independent"}},"layer":[
 {"data":{"name":"cur"},"transform":[{"filter":"datum.p=='b1' && datum.s!='M'"},{"aggregate":[{"op":"min","field":"P","as":"lo"},{"op":"max","field":"P","as":"hi"}],"groupby":["W"]}],"mark":{"type":"area","color":"#ffe1e7","interpolate":"monotone"},"encoding":{"x":{"field":"W","type":"quantitative","scale":{"domain":[1.6,1.8],"nice":false,"zero":false},"axis":{"title":null}},"y":{"field":"lo","type":"quantitative","scale":{"domain":[-0.4,0.4],"nice":false},"axis":{"title":null}},"y2":{"field":"hi"}}},
 {"data":{"values":[{}]},"mark":{"type":"rule","color":"#555","strokeWidth":0.8,"strokeDash":[1.5,2]},"encoding":{"y":{"datum":0,"axis":null}}},
 {"data":{"name":"cur"},"transform":[{"filter":"datum.p=='b1'"}],"mark":{"type":"line","strokeWidth":1,"interpolate":"monotone"},"encoding":{"x":{"field":"W","type":"quantitative","axis":{"title":null,"labels":false,"orient":"top"}},"y":{"field":"P","type":"quantitative","axis":{"title":null,"labels":false,"orient":"right"}},"color":{"field":"s","type":"nominal","scale":{"domain":["F1","F2","F3","F4","M"],"range":["#e8281e","#f06464","#e02828","#ec4848","#1fa07a"]},"legend":null},"strokeDash":{"field":"s","type":"nominal","scale":{"domain":["F1","F2","F3","F4","M"],"range":[[1,0],[4,2],[1,1.5],[5,2,1,2],[4,2,1,2]]},"legend":null}}},
 {"data":{"name":"pts"},"transform":[{"filter":"datum.p=='b1'"}],"mark":{"type":"errorbar","color":"#2a2aee","thickness":1},"encoding":{"x":{"field":"W","type":"quantitative","axis":null},"y":{"field":"P","type":"quantitative","axis":null},"yError":{"field":"e"}}},
 {"data":{"name":"pts"},"transform":[{"filter":"datum.p=='b1'"}],"mark":{"type":"point","shape":"circle","filled":true,"fill":"#fff","stroke":"#2a2aee","size":20,"strokeWidth":1.3,"opacity":1},"encoding":{"x":{"field":"W","type":"quantitative","axis":null},"y":{"field":"P","type":"quantitative","axis":null}}},
 {"data":{"values":[{}]},"mark":{"type":"text","text":"E","fontStyle":"italic","fontSize":17,"align":"left"},"encoding":{"x":{"datum":1.6213,"axis":null},"y":{"datum":0.176,"axis":null}}},
 {"data":{"values":[{}]},"mark":{"type":"text","text":"e","fontStyle":"italic","fontSize":12,"align":"left","dx":9.5,"dy":4},"encoding":{"x":{"datum":1.6213,"axis":null},"y":{"datum":0.176,"axis":null}}},
 {"data":{"values":[{}]},"mark":{"type":"text","text":"= 7.546 GeV","fontSize":17,"align":"left","dx":21.5},"encoding":{"x":{"datum":1.6213,"axis":null},"y":{"datum":0.176,"axis":null}}}
]},
{"width":166,"height":106,"resolve":{"axis":{"x":"independent","y":"independent"}},"layer":[
 {"data":{"name":"cur"},"transform":[{"filter":"datum.p=='b2' && datum.s!='M'"},{"aggregate":[{"op":"min","field":"P","as":"lo"},{"op":"max","field":"P","as":"hi"}],"groupby":["W"]}],"mark":{"type":"area","color":"#ffe1e7","interpolate":"monotone"},"encoding":{"x":{"field":"W","type":"quantitative","scale":{"domain":[1.6,1.8],"nice":false,"zero":false},"axis":{"title":null}},"y":{"field":"lo","type":"quantitative","scale":{"domain":[-0.4,0.4],"nice":false},"axis":{"title":null,"labels":false}},"y2":{"field":"hi"}}},
 {"data":{"values":[{}]},"mark":{"type":"rule","color":"#555","strokeWidth":0.8,"strokeDash":[1.5,2]},"encoding":{"y":{"datum":0,"axis":null}}},
 {"data":{"name":"cur"},"transform":[{"filter":"datum.p=='b2'"}],"mark":{"type":"line","strokeWidth":1,"interpolate":"monotone"},"encoding":{"x":{"field":"W","type":"quantitative","axis":{"title":null,"labels":false,"orient":"top"}},"y":{"field":"P","type":"quantitative","axis":{"title":null,"labels":false,"orient":"right"}},"color":{"field":"s","type":"nominal","scale":{"domain":["F1","F2","F3","F4","M"],"range":["#e8281e","#f06464","#e02828","#ec4848","#1fa07a"]},"legend":null},"strokeDash":{"field":"s","type":"nominal","scale":{"domain":["F1","F2","F3","F4","M"],"range":[[1,0],[4,2],[1,1.5],[5,2,1,2],[4,2,1,2]]},"legend":null}}},
 {"data":{"name":"pts"},"transform":[{"filter":"datum.p=='b2'"}],"mark":{"type":"errorbar","color":"#2a2aee","thickness":1},"encoding":{"x":{"field":"W","type":"quantitative","axis":null},"y":{"field":"P","type":"quantitative","axis":null},"yError":{"field":"e"}}},
 {"data":{"name":"pts"},"transform":[{"filter":"datum.p=='b2'"}],"mark":{"type":"point","shape":"circle","filled":true,"fill":"#fff","stroke":"#2a2aee","size":20,"strokeWidth":1.3,"opacity":1},"encoding":{"x":{"field":"W","type":"quantitative","axis":null},"y":{"field":"P","type":"quantitative","axis":null}}},
 {"data":{"values":[{}]},"mark":{"type":"text","text":"W","fontStyle":"italic","fontSize":20,"align":"left"},"encoding":{"x":{"datum":1.7654,"axis":null},"y":{"datum":-0.7645,"axis":null}}},
 {"data":{"values":[{}]},"mark":{"type":"text","text":"/GeV","fontSize":20,"align":"left","dx":17},"encoding":{"x":{"datum":1.7654,"axis":null},"y":{"datum":-0.7645,"axis":null}}}
]},
{"width":166,"height":106,"resolve":{"axis":{"x":"independent","y":"independent"}},"layer":[
 {"data":{"name":"cur"},"transform":[{"filter":"datum.p=='b3' && datum.s!='M'"},{"aggregate":[{"op":"min","field":"P","as":"lo"},{"op":"max","field":"P","as":"hi"}],"groupby":["W"]}],"mark":{"type":"area","color":"#ffe1e7","interpolate":"monotone"},"encoding":{"x":{"field":"W","type":"quantitative","scale":{"domain":[1.6,1.8],"nice":false,"zero":false},"axis":{"title":null}},"y":{"field":"lo","type":"quantitative","scale":{"domain":[-0.4,0.4],"nice":false},"axis":{"title":null,"labels":false}},"y2":{"field":"hi"}}},
 {"data":{"values":[{}]},"mark":{"type":"rule","color":"#555","strokeWidth":0.8,"strokeDash":[1.5,2]},"encoding":{"y":{"datum":0,"axis":null}}},
 {"data":{"name":"cur"},"transform":[{"filter":"datum.p=='b3'"}],"mark":{"type":"line","strokeWidth":1,"interpolate":"monotone"},"encoding":{"x":{"field":"W","type":"quantitative","axis":{"title":null,"labels":false,"orient":"top"}},"y":{"field":"P","type":"quantitative","axis":{"title":null,"labels":false,"orient":"right"}},"color":{"field":"s","type":"nominal","scale":{"domain":["F1","F2","F3","F4","M"],"range":["#e8281e","#f06464","#e02828","#ec4848","#1fa07a"]},"legend":null},"strokeDash":{"field":"s","type":"nominal","scale":{"domain":["F1","F2","F3","F4","M"],"range":[[1,0],[4,2],[1,1.5],[5,2,1,2],[4,2,1,2]]},"legend":null}}},
 {"data":{"name":"pts"},"transform":[{"filter":"datum.p=='b3'"}],"mark":{"type":"errorbar","color":"#2a2aee","thickness":1},"encoding":{"x":{"field":"W","type":"quantitative","axis":null},"y":{"field":"P","type":"quantitative","axis":null},"yError":{"field":"e"}}},
 {"data":{"name":"pts"},"transform":[{"filter":"datum.p=='b3'"}],"mark":{"type":"point","shape":"circle","filled":true,"fill":"#fff","stroke":"#2a2aee","size":20,"strokeWidth":1.3,"opacity":1},"encoding":{"x":{"field":"W","type":"quantitative","axis":null},"y":{"field":"P","type":"quantitative","axis":null}}}
]},
{"width":166,"height":106,"resolve":{"axis":{"x":"independent","y":"independent"}},"layer":[
 {"data":{"name":"cur"},"transform":[{"filter":"datum.p=='b4' && datum.s!='M'"},{"aggregate":[{"op":"min","field":"P","as":"lo"},{"op":"max","field":"P","as":"hi"}],"groupby":["W"]}],"mark":{"type":"area","color":"#ffe1e7","interpolate":"monotone"},"encoding":{"x":{"field":"W","type":"quantitative","scale":{"domain":[1.6,1.8],"nice":false,"zero":false},"axis":{"title":null}},"y":{"field":"lo","type":"quantitative","scale":{"domain":[-0.4,0.4],"nice":false},"axis":{"title":null,"labels":false}},"y2":{"field":"hi"}}},
 {"data":{"values":[{}]},"mark":{"type":"rule","color":"#555","strokeWidth":0.8,"strokeDash":[1.5,2]},"encoding":{"y":{"datum":0,"axis":null}}},
 {"data":{"name":"cur"},"transform":[{"filter":"datum.p=='b4'"}],"mark":{"type":"line","strokeWidth":1,"interpolate":"monotone"},"encoding":{"x":{"field":"W","type":"quantitative","axis":{"title":null,"labels":false,"orient":"top"}},"y":{"field":"P","type":"quantitative","axis":{"title":null,"labels":false,"orient":"right"}},"color":{"field":"s","type":"nominal","scale":{"domain":["F1","F2","F3","F4","M"],"range":["#e8281e","#f06464","#e02828","#ec4848","#1fa07a"]},"legend":null},"strokeDash":{"field":"s","type":"nominal","scale":{"domain":["F1","F2","F3","F4","M"],"range":[[1,0],[4,2],[1,1.5],[5,2,1,2],[4,2,1,2]]},"legend":null}}},
 {"data":{"name":"pts"},"transform":[{"filter":"datum.p=='b4'"}],"mark":{"type":"errorbar","color":"#2a2aee","thickness":1},"encoding":{"x":{"field":"W","type":"quantitative","axis":null},"y":{"field":"P","type":"quantitative","axis":null},"yError":{"field":"e"}}},
 {"data":{"name":"pts"},"transform":[{"filter":"datum.p=='b4'"}],"mark":{"type":"point","shape":"circle","filled":true,"fill":"#fff","stroke":"#2a2aee","size":20,"strokeWidth":1.3,"opacity":1},"encoding":{"x":{"field":"W","type":"quantitative","axis":null},"y":{"field":"P","type":"quantitative","axis":null}}}
]}
]
}
